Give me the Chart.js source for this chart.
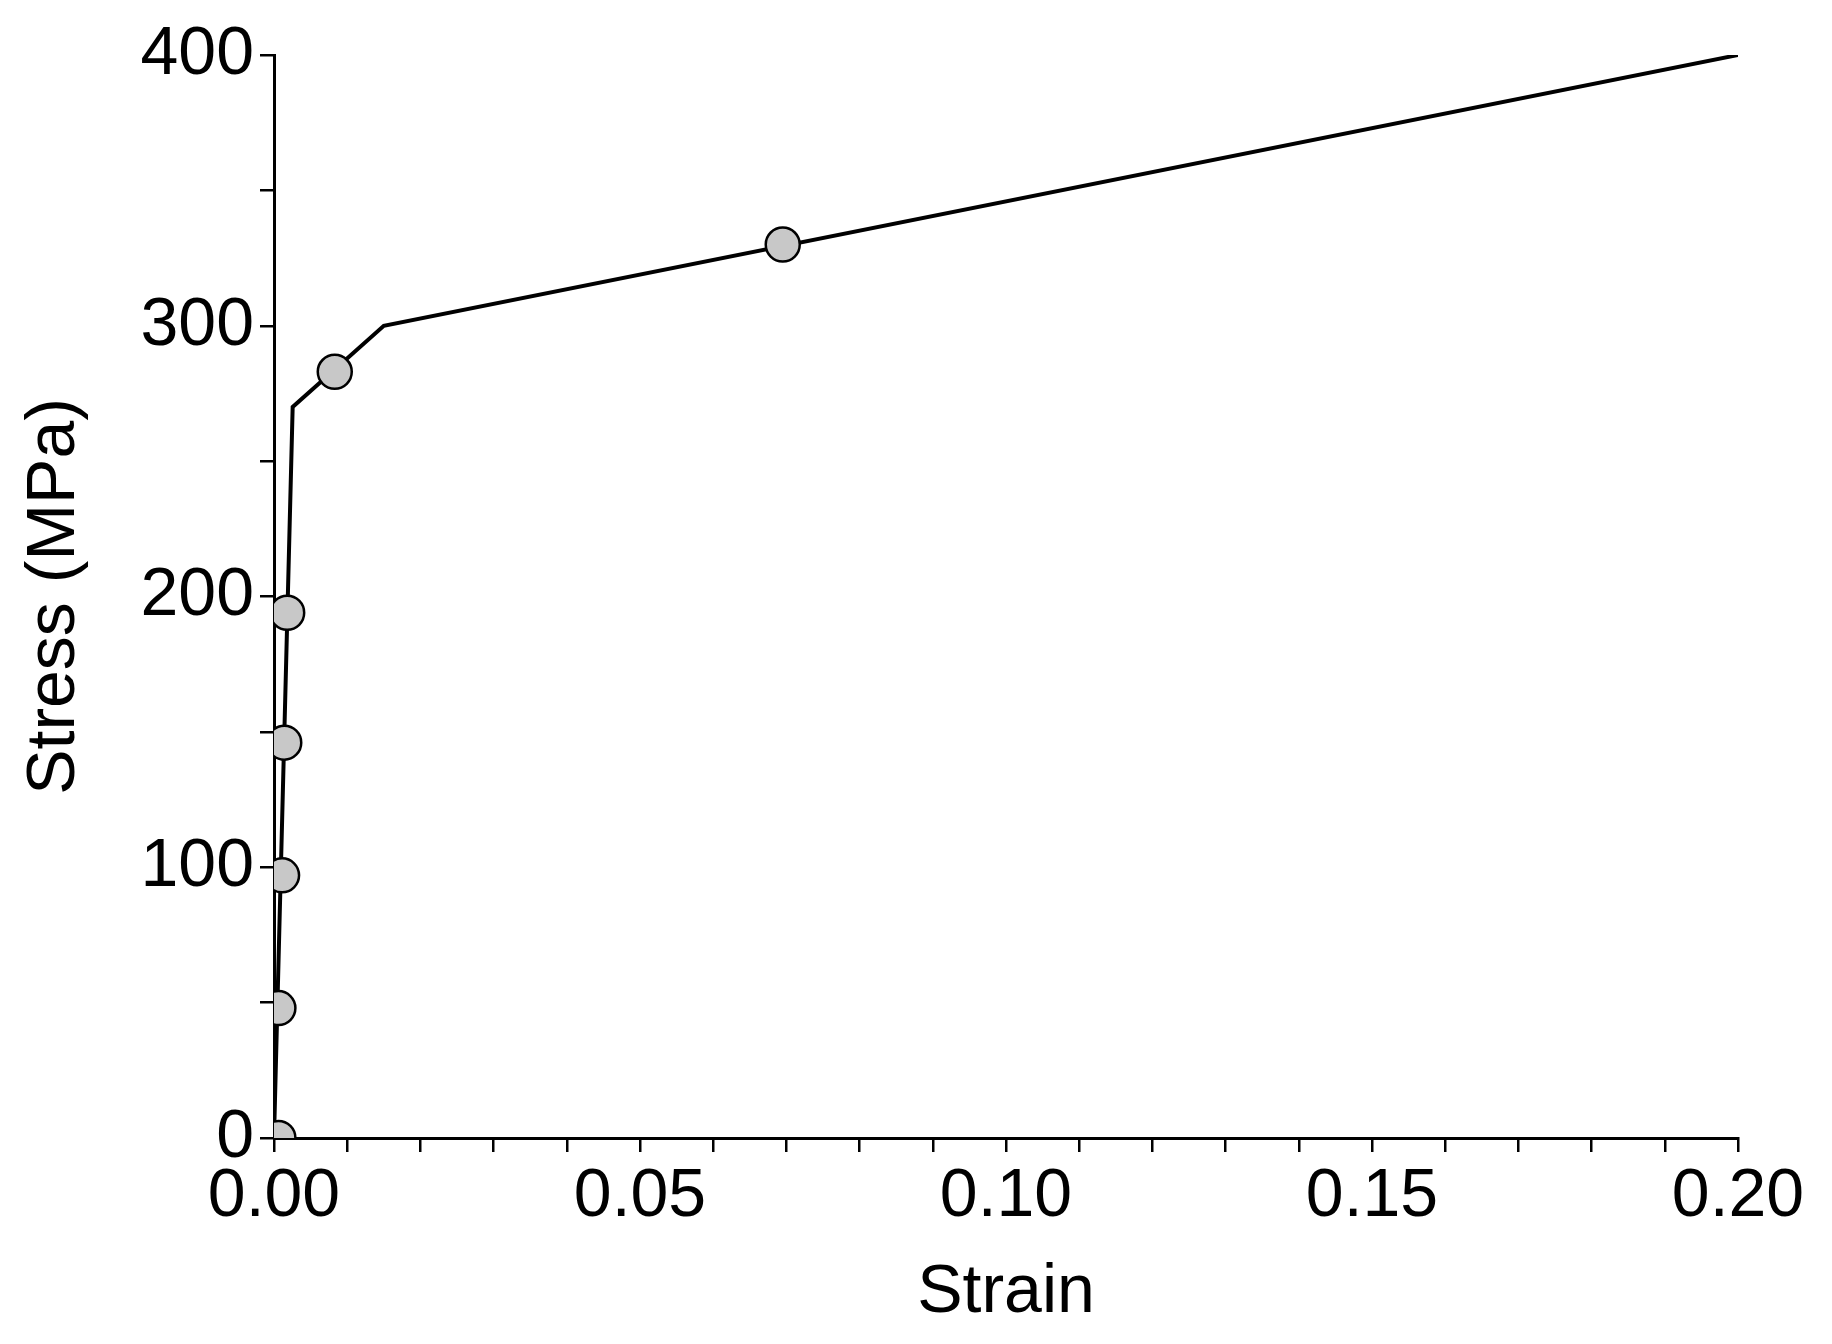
<!DOCTYPE html>
<html><head><script src="https://cdn.jsdelivr.net/npm/chart.js@4"></script>
<style>html,body{margin:0;background:#fff}#w{width:1832px;height:1344px}</style></head>
<body><div id="w"><canvas id="c"></canvas></div>
<script>
const curveStrain=[0,0.00255,0.015,0.2];
const curveStress=[0,270,300,400];
const markStrain=[0.0006,0.0006,0.0011,0.0014,0.0018,0.0083,0.0695];
const markStress=[0,48,97,146,194,283,330];
const xTicks=[0,0.05,0.10,0.15,0.20];
const yTicks=[0,100,200,300,400];
const F='"Liberation Sans", Arial, sans-serif';
new Chart(document.getElementById('c'),{
type:'scatter',
data:{datasets:[
{data:curveStrain.map((x,i)=>({x,y:curveStress[i]})),showLine:true,borderColor:'#000',borderWidth:4,pointRadius:0,order:2},
{data:markStrain.map((x,i)=>({x,y:markStress[i]})),pointRadius:17,pointBackgroundColor:'#c8c8c8',pointBorderColor:'#000',pointBorderWidth:2.5,order:1}
]},
options:{responsive:true,maintainAspectRatio:false,animation:false,
layout:{padding:{left:14,right:94,top:55,bottom:10}},
plugins:{legend:{display:false},tooltip:{enabled:false}},
scales:{
x:{type:'linear',min:0,max:0.2,border:{color:'#000',width:3},
grid:{drawOnChartArea:false,color:'#000',lineWidth:2.5,tickLength:14},
ticks:{stepSize:0.01,autoSkip:false,maxRotation:0,color:'#000',font:{family:F,size:68},padding:4,
callback:v=>{const r=Math.round(v*100);return r%5===0?(r/100).toFixed(2):'';}},
title:{display:true,text:'Strain',color:'#000',font:{family:F,size:68},padding:{top:-6,bottom:0}},
afterFit:s=>{s.height=1344-1138-10;}},
y:{type:'linear',min:0,max:400,border:{color:'#000',width:3},
grid:{drawOnChartArea:false,color:'#000',lineWidth:2.5,tickLength:14},
ticks:{stepSize:50,autoSkip:false,color:'#000',font:{family:F,size:68},padding:6,
callback:v=>yTicks.includes(v)?String(v):''},
title:{display:true,text:'Stress (MPa)',color:'#000',font:{family:F,size:68},padding:0},
afterFit:s=>{s.width=274-14;}}
}}});
</script></body></html>
